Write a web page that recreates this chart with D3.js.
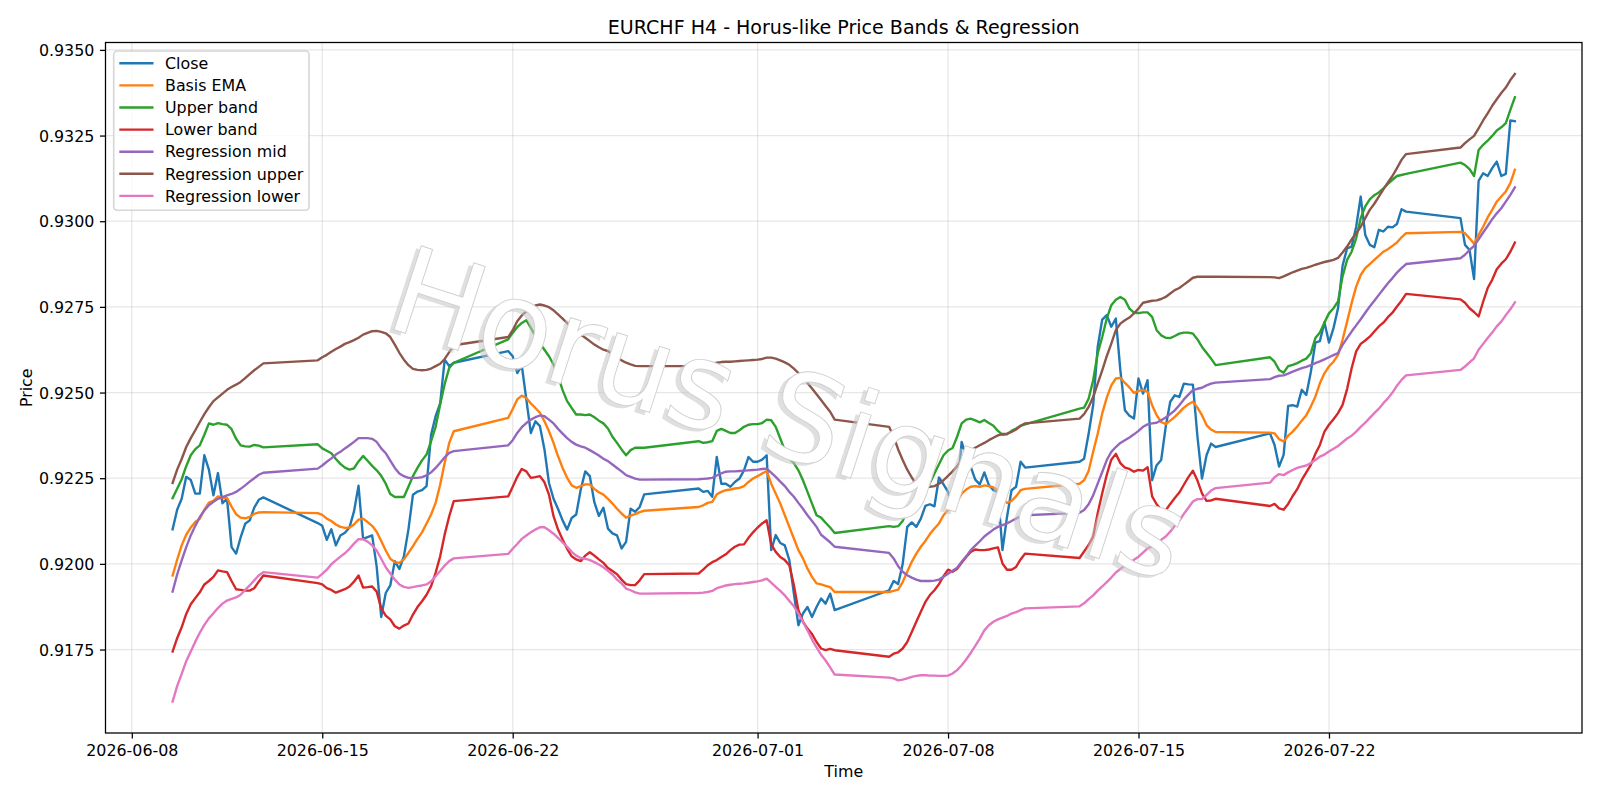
<!DOCTYPE html>
<html>
<head>
<meta charset="utf-8">
<script src="https://cdn.jsdelivr.net/npm/d3@7"></script>
<style>
  body { margin: 0; background: #fff; }
  svg { display: block; font-family: "DejaVu Sans", sans-serif; }
</style>
</head>
<body>
<svg width="1600" height="800"></svg>
<script>
// first H4 bar of each trading week, and how many 4h bars that week has
const sessionStart = ["2026-06-09T12:00:00Z", "2026-06-14T20:00:00Z", "2026-06-21T20:00:00Z", "2026-06-28T20:00:00Z",
                      "2026-07-05T20:00:00Z", "2026-07-12T20:00:00Z", "2026-07-19T20:00:00Z", "2026-07-26T20:00:00Z"];
const sessionBars = [21, 31, 31, 31, 31, 31, 31, 13];

const close = [
  .92101,.92158,.92190,.92254,.92245,.92205,.92205,.92317,.92275,.92200,.92265,.92177,.92190,.92049,.92030,.92077,.92117,.92127,.92164,.92187,.92194,
  .92119,.92111,.92070,.92101,.92054,.92083,.92091,.92106,.92153,.92228,.92073,.92078,.92083,.91992,.91845,.91915,.91937,.92008,.91985,.92022,.92100,.92202,.92211,.92215,.92227,.92377,.92431,.92468,.92596,.92577,.92587,
  .92621,.92606,.92557,.92579,.92480,.92382,.92416,.92402,.92334,.92236,.92190,.92160,.92127,.92100,.92134,.92144,.92217,.92270,.92256,.92180,.92140,.92164,.92103,.92089,.92083,.92045,.92064,.92161,.92152,.92166,.92203,
  .92220,.92210,.92213,.92196,.92312,.92234,.92234,.92225,.92239,.92249,.92273,.92312,.92298,.92298,.92304,.92317,.92040,.92084,.92061,.92054,.92011,.91913,.91821,.91855,.91874,.91845,.91874,.91899,.91884,.91913,.91865,
  .91923,.91950,.91941,.92000,.92108,.92121,.92108,.92132,.92169,.92174,.92168,.92252,.92232,.92210,.92161,.92205,.92356,.92312,.92283,.92246,.92232,.92267,.92230,.92215,.92210,.92040,.92137,.92215,.92225,.92298,.92281,
  .92298,.92307,.92380,.92463,.92633,.92713,.92726,.92692,.92716,.92565,.92448,.92432,.92424,.92541,.92497,.92536,.92244,.92288,.92303,.92400,.92473,.92492,.92487,.92526,.92524,.92523,.92371,.92249,.92317,.92351,.92341,
  .92381,.92347,.92284,.92318,.92461,.92463,.92459,.92508,.92493,.92560,.92646,.92650,.92705,.92646,.92688,.92746,.92870,.92921,.92926,.92984,.93072,.92960,.92931,.92924,.92975,.92970,.92984,.92982,.92992,.93035,.93028,
  .93009,.92931,.92916,.92831,.93118,.93140,.93132,.93155,.93174,.93132,.93138,.93294,.93292
];
const basisEma = [
  .91966,.92012,.92054,.92085,.92106,.92122,.92132,.92158,.92179,.92184,.92197,.92193,.92192,.92167,.92145,.92135,.92133,.92137,.92146,.92150,.92151,
  .92148,.92143,.92132,.92125,.92115,.92108,.92105,.92106,.92115,.92129,.92132,.92122,.92111,.92094,.92067,.92039,.92015,.92005,.92003,.92013,.92032,.92052,.92073,.92092,.92118,.92144,.92178,.92231,.92295,.92353,.92387,
  .92426,.92452,.92480,.92491,.92484,.92468,.92455,.92441,.92416,.92387,.92353,.92314,.92280,.92251,.92229,.92222,.92227,.92232,.92232,.92219,.92209,.92202,.92190,.92176,.92161,.92147,.92135,.92141,.92145,.92151,.92155,
  .92166,.92171,.92178,.92181,.92203,.92210,.92215,.92217,.92220,.92222,.92227,.92239,.92249,.92256,.92264,.92271,.92234,.92205,.92176,.92142,.92108,.92074,.92040,.92016,.91986,.91962,.91943,.91940,.91936,.91932,.91918,
  .91918,.91921,.91925,.91947,.91977,.92006,.92030,.92050,.92067,.92087,.92103,.92118,.92142,.92157,.92161,.92181,.92205,.92217,.92225,.92227,.92225,.92229,.92227,.92223,.92215,.92188,.92178,.92184,.92197,.92215,.92219,
  .92234,.92244,.92271,.92327,.92380,.92439,.92485,.92521,.92541,.92543,.92528,.92515,.92499,.92505,.92507,.92502,.92463,.92434,.92414,.92408,.92418,.92429,.92442,.92456,.92466,.92473,.92456,.92434,.92405,.92392,.92385,
  .92383,.92381,.92364,.92357,.92374,.92386,.92401,.92418,.92434,.92459,.92488,.92527,.92556,.92576,.92590,.92610,.92654,.92707,.92761,.92809,.92843,.92863,.92875,.92887,.92899,.92911,.92918,.92928,.92938,.92953,.92965,
  .92969,.92965,.92950,.92934,.92960,.92984,.93011,.93033,.93057,.93072,.93087,.93111,.93150
];
const upperBand = [
  .92192,.92219,.92247,.92285,.92317,.92335,.92346,.92377,.92410,.92406,.92411,.92408,.92406,.92393,.92365,.92346,.92343,.92342,.92347,.92345,.92340,
  .92349,.92337,.92330,.92323,.92306,.92292,.92281,.92275,.92279,.92299,.92315,.92301,.92286,.92273,.92257,.92234,.92204,.92195,.92195,.92195,.92225,.92256,.92280,.92302,.92319,.92358,.92400,.92465,.92525,.92572,.92587,
  .92655,.92674,.92691,.92703,.92711,.92689,.92664,.92643,.92625,.92606,.92582,.92548,.92507,.92475,.92455,.92436,.92436,.92434,.92436,.92428,.92418,.92410,.92395,.92371,.92353,.92334,.92317,.92332,.92339,.92339,.92339,
  .92358,.92353,.92355,.92358,.92388,.92394,.92388,.92382,.92382,.92390,.92400,.92406,.92408,.92408,.92411,.92421,.92419,.92400,.92366,.92332,.92307,.92294,.92273,.92244,.92210,.92176,.92142,.92135,.92120,.92106,.92090,
  .92110,.92108,.92110,.92125,.92157,.92171,.92184,.92197,.92215,.92236,.92264,.92291,.92317,.92331,.92338,.92371,.92410,.92421,.92424,.92419,.92413,.92420,.92411,.92403,.92388,.92377,.92378,.92388,.92395,.92403,.92407,
  .92453,.92456,.92482,.92536,.92614,.92662,.92716,.92755,.92771,.92779,.92771,.92745,.92733,.92732,.92734,.92734,.92721,.92682,.92667,.92660,.92659,.92665,.92672,.92675,.92675,.92672,.92655,.92633,.92616,.92599,.92580,
  .92603,.92590,.92566,.92558,.92577,.92581,.92586,.92593,.92599,.92615,.92659,.92675,.92704,.92731,.92746,.92766,.92839,.92887,.92911,.92950,.93009,.93043,.93064,.93076,.93084,.93096,.93109,.93121,.93132,.93135,.93138,
  .93171,.93164,.93152,.93132,.93208,.93223,.93235,.93249,.93265,.93274,.93286,.93325,.93362
];
const lowerBand = [
  .91744,.91783,.91815,.91854,.91882,.91900,.91917,.91940,.91950,.91962,.91981,.91978,.91976,.91950,.91926,.91924,.91922,.91922,.91929,.91948,.91966,
  .91944,.91940,.91929,.91924,.91916,.91921,.91926,.91934,.91948,.91966,.91931,.91932,.91934,.91919,.91870,.91849,.91838,.91818,.91811,.91820,.91826,.91852,.91874,.91891,.91910,.91935,.91974,.92022,.92086,.92139,.92183,
  .92197,.92225,.92254,.92277,.92270,.92251,.92253,.92256,.92238,.92202,.92139,.92100,.92071,.92044,.92022,.92013,.92008,.92024,.92034,.92024,.92013,.92003,.91988,.91979,.91970,.91954,.91941,.91938,.91938,.91952,.91970,
  .91972,.91983,.91996,.92005,.92011,.92020,.92028,.92040,.92050,.92056,.92057,.92076,.92092,.92106,.92118,.92127,.92057,.92035,.92020,.92011,.91996,.91938,.91865,.91831,.91811,.91795,.91772,.91753,.91748,.91752,.91748,
  .91729,.91738,.91742,.91753,.91772,.91801,.91831,.91860,.91889,.91909,.91923,.91941,.91964,.91983,.91977,.91986,.92003,.92020,.92035,.92042,.92040,.92040,.92042,.92045,.92048,.92001,.91983,.91983,.91991,.92013,.92030,
  .92017,.92036,.92055,.92080,.92148,.92206,.92260,.92304,.92321,.92294,.92281,.92277,.92269,.92274,.92272,.92282,.92197,.92174,.92158,.92156,.92175,.92192,.92208,.92231,.92253,.92272,.92243,.92206,.92184,.92185,.92190,
  .92169,.92175,.92162,.92158,.92175,.92198,.92218,.92245,.92267,.92289,.92321,.92347,.92386,.92406,.92422,.92440,.92464,.92510,.92571,.92620,.92642,.92652,.92663,.92678,.92693,.92704,.92720,.92733,.92751,.92768,.92788,
  .92772,.92762,.92746,.92735,.92722,.92765,.92805,.92829,.92860,.92876,.92889,.92911,.92938
];
const regMid = [
  .91919,.91969,.92010,.92049,.92083,.92111,.92137,.92156,.92171,.92181,.92190,.92195,.92200,.92204,.92210,.92219,.92229,.92240,.92250,.92260,.92266,
  .92278,.92287,.92298,.92308,.92319,.92327,.92337,.92346,.92356,.92367,.92367,.92367,.92365,.92356,.92337,.92323,.92301,.92280,.92264,.92256,.92251,.92251,.92251,.92253,.92258,.92267,.92280,.92295,.92311,.92324,.92329,
  .92346,.92361,.92382,.92399,.92411,.92421,.92428,.92433,.92431,.92421,.92410,.92394,.92380,.92367,.92356,.92348,.92343,.92339,.92332,.92324,.92316,.92307,.92300,.92290,.92280,.92270,.92259,.92254,.92249,.92246,.92246,
  .92247,.92248,.92249,.92251,.92258,.92264,.92269,.92270,.92270,.92271,.92272,.92273,.92274,.92275,.92277,.92278,.92266,.92254,.92240,.92227,.92210,.92196,.92178,.92161,.92142,.92125,.92108,.92085,.92074,.92063,.92050,
  .92032,.92016,.91993,.91977,.91967,.91960,.91954,.91950,.91950,.91950,.91951,.91954,.91962,.91971,.91980,.91989,.92006,.92022,.92040,.92053,.92066,.92080,.92090,.92100,.92108,.92113,.92118,.92125,.92132,.92139,.92142,
  .92149,.92157,.92174,.92200,.92234,.92268,.92303,.92327,.92341,.92353,.92361,.92369,.92378,.92388,.92400,.92407,.92410,.92412,.92419,.92427,.92437,.92448,.92463,.92480,.92494,.92507,.92511,.92514,.92521,.92526,.92529,
  .92539,.92545,.92549,.92550,.92555,.92561,.92566,.92571,.92575,.92580,.92586,.92591,.92597,.92603,.92609,.92615,.92639,.92659,.92678,.92696,.92714,.92733,.92751,.92768,.92785,.92802,.92819,.92834,.92850,.92863,.92875,
  .92892,.92902,.92916,.92928,.92947,.92967,.92986,.93006,.93023,.93038,.93057,.93077,.93099
];
const regUpper = [
  .92236,.92275,.92306,.92341,.92367,.92390,.92414,.92437,.92457,.92475,.92486,.92497,.92508,.92516,.92523,.92531,.92542,.92554,.92565,.92575,.92585,
  .92594,.92603,.92610,.92619,.92627,.92634,.92642,.92647,.92653,.92660,.92669,.92674,.92679,.92680,.92677,.92673,.92662,.92640,.92616,.92596,.92580,.92569,.92566,.92565,.92566,.92570,.92577,.92584,.92598,.92618,.92638,
  .92662,.92682,.92708,.92725,.92737,.92747,.92754,.92757,.92754,.92749,.92740,.92728,.92716,.92703,.92692,.92681,.92669,.92660,.92650,.92640,.92632,.92625,.92621,.92612,.92604,.92594,.92587,.92582,.92578,.92577,.92577,
  .92577,.92579,.92581,.92584,.92587,.92589,.92590,.92590,.92591,.92592,.92593,.92594,.92595,.92596,.92598,.92602,.92602,.92599,.92594,.92588,.92581,.92570,.92557,.92544,.92528,.92512,.92495,.92478,.92461,.92444,.92421,
  .92400,.92371,.92334,.92303,.92275,.92252,.92232,.92225,.92224,.92225,.92227,.92234,.92244,.92257,.92270,.92285,.92303,.92317,.92330,.92339,.92346,.92353,.92361,.92368,.92375,.92379,.92380,.92385,.92392,.92403,.92410,
  .92424,.92437,.92458,.92487,.92526,.92565,.92606,.92643,.92682,.92701,.92711,.92719,.92731,.92745,.92762,.92765,.92768,.92769,.92773,.92779,.92789,.92799,.92805,.92815,.92825,.92835,.92838,.92838,.92838,.92838,.92838,
  .92837,.92836,.92834,.92839,.92845,.92851,.92856,.92861,.92864,.92868,.92873,.92877,.92881,.92884,.92887,.92893,.92909,.92926,.92947,.92965,.92984,.93009,.93033,.93051,.93072,.93093,.93113,.93132,.93155,.93179,.93196,
  .93215,.93228,.93239,.93249,.93271,.93294,.93315,.93337,.93356,.93374,.93390,.93412,.93430
];
const regLower = [
  .91598,.91643,.91679,.91716,.91744,.91773,.91799,.91822,.91841,.91856,.91871,.91884,.91893,.91898,.91902,.91910,.91924,.91937,.91952,.91966,.91976,
  .91960,.91971,.91983,.91999,.92010,.92021,.92031,.92044,.92059,.92072,.92072,.92065,.92054,.92039,.92015,.91990,.91972,.91954,.91940,.91933,.91930,.91932,.91935,.91937,.91940,.91949,.91964,.91979,.91995,.92008,.92016,
  .92029,.92044,.92058,.92073,.92083,.92092,.92100,.92107,.92107,.92098,.92088,.92076,.92063,.92050,.92035,.92024,.92017,.92015,.92011,.92005,.91998,.91990,.91980,.91969,.91954,.91943,.91928,.91923,.91917,.91913,.91913,
  .91915,.91916,.91918,.91921,.91929,.91933,.91937,.91939,.91941,.91942,.91943,.91945,.91947,.91949,.91952,.91957,.91945,.91933,.91921,.91908,.91892,.91876,.91855,.91831,.91806,.91779,.91756,.91735,.91718,.91698,.91677,
  .91668,.91666,.91660,.91662,.91666,.91670,.91673,.91675,.91675,.91674,.91674,.91673,.91673,.91674,.91680,.91690,.91704,.91721,.91740,.91761,.91782,.91806,.91821,.91831,.91838,.91843,.91848,.91855,.91859,.91865,.91870,
  .91876,.91885,.91897,.91908,.91922,.91934,.91947,.91960,.91975,.91985,.91995,.92002,.92012,.92021,.92033,.92045,.92051,.92058,.92070,.92080,.92094,.92111,.92126,.92146,.92164,.92182,.92189,.92189,.92201,.92214,.92221,
  .92237,.92253,.92262,.92259,.92267,.92274,.92280,.92284,.92287,.92294,.92303,.92313,.92319,.92328,.92336,.92344,.92355,.92366,.92374,.92386,.92400,.92412,.92426,.92440,.92453,.92469,.92483,.92500,.92520,.92537,.92550,
  .92566,.92576,.92588,.92600,.92625,.92642,.92659,.92675,.92693,.92707,.92726,.92743,.92763
];

const seriesNames = ["Close", "Basis EMA", "Upper band", "Lower band", "Regression mid", "Regression upper", "Regression lower"];
const seriesColors = ["#1f77b4", "#ff7f0e", "#2ca02c", "#d62728", "#9467bd", "#8c564b", "#e377c2"];
const xTickLabels = ["2026-06-08", "2026-06-15", "2026-06-22", "2026-07-01", "2026-07-08", "2026-07-15", "2026-07-22"];
const yTicks = [0.9175, 0.9200, 0.9225, 0.9250, 0.9275, 0.9300, 0.9325, 0.9350];

function draw() {
    const margin = { top: 42.5, right: 18, bottom: 67, left: 105.5 },
        width = 1600 - margin.left - margin.right,
        height = 800 - margin.top - margin.bottom;

    // bar times, 4h apart inside each trading week
    const times = [];
    sessionStart.forEach((s, k) => {
        const t0 = Date.parse(s);
        for (let i = 0; i < sessionBars[k]; i++) times.push(new Date(t0 + i * 4 * 3600e3));
    });

    const series = [close, basisEma, upperBand, lowerBand, regMid, regUpper, regLower]
        .map((v, i) => ({ name: seriesNames[i], color: seriesColors[i], values: v }));

    // matplotlib-like 5% margins
    const tExt = d3.extent(times);
    const tPad = (tExt[1] - tExt[0]) * 0.05;
    const x = d3.scaleUtc()
        .domain([new Date(+tExt[0] - tPad), new Date(+tExt[1] + tPad)])
        .range([0, width]);

    const [lo, hi] = d3.extent(series.flatMap(s => s.values));
    const yPad = (hi - lo) * 0.05;
    const y = d3.scaleLinear().domain([lo - yPad, hi + yPad]).range([height, 0]);

    const svg = d3.select("svg");
    svg.append("rect").attr("width", 1600).attr("height", 800).attr("fill", "#fff");

    const g = svg.append("g")
        .attr("transform", "translate(" + margin.left + "," + margin.top + ")");

    const xTicks = xTickLabels.map(d => new Date(d + "T00:00:00Z"));

    // grid
    g.append("g").selectAll("line").data(xTicks).enter().append("line")
        .attr("x1", d => x(d)).attr("x2", d => x(d))
        .attr("y1", 0).attr("y2", height)
        .attr("stroke", "#b0b0b0").attr("stroke-opacity", 0.3).attr("stroke-width", 1.27);
    g.append("g").selectAll("line").data(yTicks).enter().append("line")
        .attr("x1", 0).attr("x2", width)
        .attr("y1", d => y(d)).attr("y2", d => y(d))
        .attr("stroke", "#b0b0b0").attr("stroke-opacity", 0.3).attr("stroke-width", 1.27);

    // watermark, embossed look: gray shadow under a white outlined copy
    const wm = svg.append("g")
        .attr("transform", "translate(790,412) rotate(18)")
        .attr("font-size", 121).attr("text-anchor", "middle");
    wm.append("text").attr("x", -4).attr("y", 44 + 4)
        .attr("fill", "#c4c4c4").attr("fill-opacity", 0.55)
        .text("Horus Signals");
    wm.append("text").attr("x", 0).attr("y", 44)
        .attr("fill", "#ffffff").attr("stroke", "#cfcfcf").attr("stroke-width", 0.9)
        .text("Horus Signals");

    // lines
    const line = d3.line()
        .x((d, i) => x(times[i]))
        .y(d => y(d));

    g.append("g").selectAll("path").data(series).enter().append("path")
        .attr("d", d => line(d.values))
        .attr("fill", "none")
        .attr("stroke", d => d.color)
        .attr("stroke-width", 2.38)
        .attr("stroke-linejoin", "round")
        .attr("stroke-linecap", "square");

    // axes
    const xAxis = g.append("g")
        .attr("transform", "translate(0," + height + ")")
        .call(d3.axisBottom(x).tickValues(xTicks)
            .tickFormat(d3.utcFormat("%Y-%m-%d"))
            .tickSize(5.56).tickPadding(5.56).tickSizeOuter(0));
    const yAxis = g.append("g")
        .call(d3.axisLeft(y).tickValues(yTicks)
            .tickFormat(d3.format(".4f"))
            .tickSize(5.56).tickPadding(5.56).tickSizeOuter(0));

    [xAxis, yAxis].forEach(a => {
        a.select(".domain").remove();
        a.selectAll(".tick line").attr("stroke", "#000").attr("stroke-width", 1.27);
        a.selectAll(".tick text").attr("fill", "#000")
            .attr("font-family", "DejaVu Sans").attr("font-size", 15.87);
    });
    xAxis.selectAll(".tick text").attr("dy", null).attr("y", 22.7);
    yAxis.selectAll(".tick text").attr("dy", "0.36em");

    // spines
    g.append("rect")
        .attr("width", width).attr("height", height)
        .attr("fill", "none").attr("stroke", "#000").attr("stroke-width", 1.27);

    // labels
    svg.append("text")
        .attr("x", margin.left + width / 2).attr("y", 33.5)
        .attr("text-anchor", "middle").attr("font-size", 19.05)
        .text("EURCHF H4 - Horus-like Price Bands & Regression");

    svg.append("text")
        .attr("x", margin.left + width / 2).attr("y", 777.4)
        .attr("text-anchor", "middle").attr("font-size", 15.87)
        .text("Time");

    svg.append("text")
        .attr("transform", "translate(31.5," + (margin.top + height / 2) + ") rotate(-90)")
        .attr("text-anchor", "middle").attr("font-size", 15.87)
        .text("Price");

    // legend
    const legend = svg.append("g");
    legend.append("rect")
        .attr("x", 113.7).attr("y", 51).attr("width", 195.3).attr("height", 159.3)
        .attr("rx", 3.5)
        .attr("fill", "#fff").attr("fill-opacity", 0.8)
        .attr("stroke", "#cccccc").attr("stroke-opacity", 0.8).attr("stroke-width", 1.59);

    const rows = legend.selectAll("g.row").data(series).enter().append("g")
        .attr("class", "row")
        .attr("transform", (d, i) => "translate(0," + (63.3 + i * 22.1) + ")");
    rows.append("line")
        .attr("x1", 120.5).attr("x2", 152.3)
        .attr("stroke", d => d.color).attr("stroke-width", 2.38).attr("stroke-linecap", "square");
    rows.append("text")
        .attr("x", 165).attr("dy", "0.36em")
        .attr("font-size", 15.87)
        .text(d => d.name);
}

draw();
</script>
</body>
</html>
